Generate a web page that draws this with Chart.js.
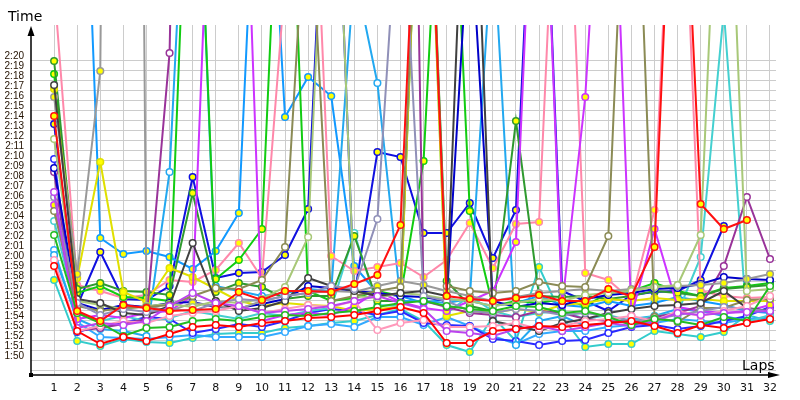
<!doctype html>
<html>
<head>
<meta charset="utf-8">
<title>Lap times</title>
<style>
	body { margin: 0; background: #fff; }
	canvas { display: block; }
</style>
<script src="https://cdn.jsdelivr.net/npm/chart.js@4.4.0/dist/chart.umd.min.js"></script>
</head>
<body>
<canvas id="laps" width="800" height="400"></canvas>
<script>
"use strict";
// lap numbers and y ticks (seconds)
const laps = [1, 2, 3, 4, 5, 6, 7, 8, 9, 10, 11, 12, 13, 14, 15, 16, 17, 18, 19, 20, 21, 22, 23, 24, 25, 26, 27, 28, 29, 30, 31, 32];
const timeTicks = [109, 110, 111, 112, 113, 114, 115, 116, 117, 118, 119, 120, 121, 122, 123, 124, 125, 126, 127, 128, 129, 130, 131, 132, 133, 134, 135, 136, 137, 138, 139, 140];

// lap times in seconds (values above ~143 run off the top)
const red1 = [119.5, 113.0, 111.7, 112.4, 112.0, 112.7, 113.4, 113.6, 113.4, 113.8, 114.0, 114.3, 114.4, 114.6, 115.0, 115.4, 114.8, 111.8, 111.8, 113.0, 113.2, 113.5, 113.4, 113.6, 113.8, 114.0, 113.5, 112.8, 113.6, 113.3, 113.8, 114.2];
const red2 = [134.5, 115.0, 114.0, 115.6, 115.3, 115.0, 115.1, 115.2, 116.9, 116.1, 117.0, 117.0, 116.9, 117.7, 118.6, 123.6, 175, 116.5, 116.2, 116.0, 116.3, 116.6, 116.0, 116.0, 117.2, 116.5, 121.4, 175, 125.7, 123.2, 124.1, null];
const blue1 = [133.7, 115.5, 120.9, 116.2, 116.1, 117.5, 128.4, 118.3, 118.8, 118.9, 120.6, 125.2, 175, 116.5, 130.9, 130.4, 122.8, 122.8, 125.8, 120.3, 125.1, 175, 117.0, 116.0, 115.0, 116.6, 116.9, 117.0, 118.1, 123.5, null, null];
const blue2 = [130.2, 112.9, 113.5, 113.8, 114.4, 114.2, 112.8, 113.2, 113.7, 113.4, 114.0, 114.8, 115.2, 115.0, 114.6, 115.0, 113.8, 113.6, 113.5, 112.2, 112.0, 111.6, 112.0, 112.1, 112.8, 113.4, 113.6, 113.2, 113.5, 114.0, 114.5, 115.4];
const navy = [129.3, 115.8, 115.1, 115.6, 115.4, 115.8, 115.9, 115.4, 115.3, 115.7, 116.2, 117.5, 117.3, 117.0, 116.8, 116.5, 116.4, 116.0, 155, 116.0, 115.4, 115.8, 115.6, 116.2, 116.6, 116.8, 117.2, 117.3, 117.7, 118.4, 118.2, 118.1];
const green1 = [138.7, 116.8, 117.5, 116.4, 116.3, 116.0, 175, 118.2, 120.1, 123.2, 175, 117.0, 116.0, 116.3, 117.0, 116.5, 130.0, 175, 125.0, 115.5, 116.0, 115.8, 116.2, 115.5, 116.8, 117.0, 117.8, 117.0, 116.5, 117.3, 117.5, 117.8];
const green2 = [122.6, 114.8, 113.8, 112.5, 113.3, 113.4, 114.0, 114.2, 114.0, 114.4, 114.6, 114.5, 114.8, 115.0, 115.4, 115.8, 116.0, 115.5, 115.2, 115.0, 115.5, 115.4, 114.8, 115.0, 114.4, 113.6, 114.2, 114.0, 113.6, 114.4, 114.0, 117.5];
const forest = [140.0, 117.2, 117.8, 117.0, 116.9, 116.6, 126.8, 116.9, 117.8, 117.4, 116.2, 116.5, 116.5, 122.5, 116.0, 116.0, 175, 118.0, 115.5, 115.0, 134.0, 116.5, 116.4, 116.5, 116.2, 116.5, 117.0, 116.8, 116.5, 117.2, 117.4, 117.6];
const yellow = [137.2, 118.3, 129.9, 116.9, 115.9, 119.3, 118.4, 117.2, 116.0, 115.5, 115.8, 115.6, 115.5, 115.0, 115.2, 115.4, 175, 114.5, 115.0, 114.8, 115.2, 114.9, 115.6, 115.8, 116.2, 116.0, 116.3, 116.1, 116.2, 116.0, 116.0, 116.0];
const gray = [136.4, 118.7, 139.0, 400, 115.5, 115.0, 115.8, 115.5, 115.2, 116.0, 116.5, 116.8, 117.0, 116.9, 117.5, 118.0, 117.6, 117.0, 116.5, 116.0, 116.4, 116.8, 117.0, 117.2, 117.0, 117.2, 117.4, 117.5, 117.6, 117.8, 118.2, 118.7];
const lavender = [126.4, 115.8, 114.6, 115.2, 114.9, 115.2, 115.0, 115.8, 116.2, 116.0, 116.5, 116.8, 117.5, 117.2, 124.2, 160, 116.5, 116.0, 115.0, 114.8, 115.2, 115.0, 114.6, 114.8, 114.5, 114.0, 114.2, 114.6, 115.0, 115.4, 115.2, 115.0];
const darkgray = [137.6, 116.2, 115.8, 114.8, 114.6, 115.5, 121.8, 116.0, 115.0, 115.3, 116.0, 118.3, 117.5, 117.0, 116.5, 116.8, 117.0, 116.5, 175, 114.0, 113.5, 113.0, 113.8, 114.2, 114.8, 115.2, 115.5, 115.6, 115.8, 117.0, 115.3, 115.0];
const pink = [147.5, 117.6, 117.0, 116.3, 116.6, 118.1, 117.9, 119.1, 121.8, 118.3, 148, 175, 120.5, 119.0, 119.4, 119.8, 118.4, 120.1, 123.8, 119.3, 123.7, 123.9, 175, 118.8, 118.1, 116.1, 125.1, 175, 117.0, 116.5, 116.3, 116.4];
const pink2 = [120.1, 113.0, 113.5, 114.0, 113.8, 114.5, 114.8, 115.0, 115.5, 114.8, 115.2, 115.6, 115.4, 116.0, 113.1, 113.8, 114.1, 113.4, 113.4, 113.5, 113.8, 113.2, 113.5, 114.0, 114.2, 114.5, 114.0, 115.0, 114.5, 115.0, 115.5, 116.5];
const dodger = [180, 183, 122.3, 120.7, 121.0, 120.4, 119.2, 121.0, 124.8, 175, 134.4, 138.4, 136.5, 119.5, 116.8, 116.5, 115.8, 116.2, 116.0, 115.5, 115.8, 116.5, 115.6, 115.4, 116.0, 115.5, 115.8, 116.4, 116.0, 115.6, 115.0, 114.8];
const dodger2 = [120.6, 114.2, 113.2, 113.0, 112.5, 128.9, 175, 117.5, 117.0, 116.5, 116.8, 117.2, 117.0, 149, 137.8, 116.0, 116.0, 115.8, 116.2, 153, 111.6, 114.0, 114.5, 113.5, 113.8, 114.2, 114.5, 115.2, 115.0, 114.5, 114.0, 114.4];
const sky = [121.1, 113.9, 112.4, 112.3, 112.2, 112.4, 112.6, 112.4, 112.4, 112.4, 112.9, 113.5, 113.7, 113.4, 114.4, 114.4, 113.6, 114.4, 113.5, 112.5, 111.7, 112.7, 113.0, 113.0, 113.4, 113.6, 113.8, 114.2, 114.0, 113.8, 114.2, 114.4];
const purple = [128.9, 113.0, 113.3, 113.7, 114.2, 140.8, 250, null, null, null, null, null, null, null, null, 250, 116.0, 115.4, 114.8, 114.6, 114.4, 115.0, 114.8, 114.2, 114.0, 113.8, 114.4, 114.8, 115.5, 119.5, 126.4, 120.2];
const violet = [125.6, 114.2, 114.6, 114.3, 114.8, 115.0, 116.5, 175, 180, 114.0, 114.6, 114.8, 114.6, 115.5, 117.0, 115.9, 115.3, 115.0, 116.0, 117.0, 121.9, 175, 115.5, 136.4, 175, 114.5, 123.2, 115.4, 115.0, 114.8, 115.0, 115.6];
const violet2 = [126.9, 113.3, 113.8, 113.6, 114.0, 115.5, 116.8, 115.8, 115.5, 114.8, 115.0, 115.2, 115.5, 116.0, 116.5, 115.8, 115.2, 113.0, 112.8, 112.5, 113.2, 113.5, 113.0, 113.4, 113.8, 113.5, 114.0, 114.8, 114.6, 114.8, 114.9, 115.0];
const olive = [125.0, 115.5, 115.0, 115.3, 115.4, 115.6, 116.5, 117.3, 117.2, 118.1, 121.4, 160, 116.0, 116.5, 117.0, 117.4, 175, 117.5, 117.0, 116.8, 117.0, 117.9, 117.5, 117.4, 122.5, 176, 114.4, 113.9, 115.3, 115.3, 116.1, 116.2];
const lime = [132.2, 116.0, 115.6, 115.2, 115.5, 115.7, 115.4, 116.0, 115.8, 116.2, 117.4, 122.4, 175, 116.5, 116.3, 116.8, 116.6, 116.2, 116.0, 115.5, 115.8, 116.2, 116.0, 116.6, 116.8, 117.0, 117.4, 117.6, 122.6, 176, 117.0, 117.2];
const teal = [118.1, 112.0, 111.5, 112.2, 111.9, 111.8, 112.3, 112.7, 112.8, 112.8, 113.3, 113.5, 113.8, 114.0, 114.6, 115.2, 114.0, 111.6, 110.9, 114.4, 112.0, 119.4, 114.4, 111.4, 111.7, 111.7, 113.0, 112.7, 112.4, 112.9, 114.6, 114.0];
const teal2 = [124.0, 114.8, 114.0, 114.5, 114.0, 114.3, 115.0, 114.6, 114.2, 114.8, 114.5, 115.0, 115.3, 122.8, 115.6, 115.5, 175, 114.8, 116.5, 115.0, 114.4, 114.8, 115.0, 114.2, 114.6, 114.0, 114.5, 114.8, 120.4, 145, 113.9, 114.6];

const series = [
	[red1, "#ff0000", "#ffffff"],
	[red2, "#ff1010", "#ffff00"],
	[green2, "#22bb22", "#ffffff"],
	[violet2, "#bb44ee", "#ffffff"],
	[pink2, "#ff99bb", "#ffffff"],
	[lavender, "#9090b8", "#ffffff"],
	[darkgray, "#404040", "#ffffff"],
	[olive, "#8b8b55", "#ffffff"],
	[lime, "#a8c878", "#ffffff"],
	[gray, "#999999", "#ffff00"],
	[navy, "#0000c8", "#ffffff"],
	[purple, "#993399", "#ffffff"],
	[violet, "#cc33ff", "#ffff00"],
	[yellow, "#e0e000", "#ffff00"],
	[forest, "#2f9a2f", "#ffff00"],
	[green1, "#11cc11", "#ffff00"],
	[pink, "#ff88aa", "#ffff00"],
	[teal2, "#44d0d0", "#ffffff"],
	[dodger2, "#22a8f0", "#ffffff"],
	[dodger, "#1199ff", "#ffff00"],
	[blue2, "#2a2aff", "#ffffff"],
	[blue1, "#1010e0", "#ffff00"],
	[sky, "#33aaff", "#ffffff"],
	[teal, "#33cccc", "#ffff00"]
];

const fmt = v => Math.floor(v / 60) + ":" + String(Math.round(v % 60)).padStart(2, "0");

const datasets = series.map(([vals, color, fill]) => ({
	data: vals.map((v, i) => ({ x: laps[i], y: v })),
	borderColor: color,
	borderWidth: 2,
	pointRadius: 3.3,
	pointBorderWidth: 1.5,
	pointBorderColor: color,
	pointBackgroundColor: fill,
	tension: 0,
	clip: 0
}));

// axis arrows, origin box and axis names
const axisDecor = {
	id: "axisDecor",
	afterDraw(chart) {
		const { ctx, chartArea: a } = chart;
		ctx.save();
		ctx.strokeStyle = "#000";
		ctx.fillStyle = "#000";
		ctx.lineWidth = 1.5;
		ctx.beginPath();
		ctx.moveTo(a.left, a.bottom);
		ctx.lineTo(a.left, 34);
		ctx.moveTo(a.left, a.bottom);
		ctx.lineTo(770, a.bottom);
		ctx.stroke();
		ctx.beginPath();
		ctx.moveTo(a.left, 26);
		ctx.lineTo(a.left - 3.5, 36);
		ctx.lineTo(a.left + 3.5, 36);
		ctx.closePath();
		ctx.fill();
		ctx.beginPath();
		ctx.moveTo(780, a.bottom);
		ctx.lineTo(768, a.bottom - 3);
		ctx.lineTo(768, a.bottom + 3);
		ctx.closePath();
		ctx.fill();
		ctx.fillRect(a.left - 2, a.bottom - 2, 4, 4);
		ctx.font = "14px 'DejaVu Sans'";
		ctx.textBaseline = "alphabetic";
		ctx.textAlign = "left";
		ctx.fillText("Time", 8, 21);
		ctx.fillText("Laps", 742, 370);
		ctx.restore();
	}
};

new Chart(document.getElementById("laps"), {
	type: "line",
	data: { datasets: datasets },
	options: {
		responsive: false,
		animation: false,
		events: [],
		layout: { padding: { top: 25, right: 24, left: 0, bottom: 0 } },
		plugins: { legend: { display: false }, tooltip: { enabled: false } },
		scales: {
			x: {
				type: "linear",
				min: 0,
				max: 32.26,
				afterBuildTicks: scale => { scale.ticks = laps.map(v => ({ value: v })); },
				afterFit: scale => { scale.height = 25; },
				grid: { color: "#cccccc", lineWidth: 1, drawTicks: false },
				border: { display: false },
				ticks: {
					color: "#111",
					font: { family: "DejaVu Sans", size: 11 },
					padding: 7,
					maxRotation: 0,
					autoSkip: false
				}
			},
			y: {
				min: 108.6,
				max: 143.6,
				afterBuildTicks: scale => { scale.ticks = timeTicks.map(v => ({ value: v })); },
				afterFit: scale => { scale.width = 31; },
				grid: { color: "#cccccc", lineWidth: 1, drawTicks: false },
				border: { display: false },
				ticks: {
					color: "#221100",
					font: { family: "Liberation Sans", size: 10 },
					padding: 7,
					labelOffset: -5,
					autoSkip: false,
					callback: v => (v < 110 ? "" : fmt(v))
				}
			}
		}
	},
	plugins: [axisDecor]
});
</script>
</body>
</html>
